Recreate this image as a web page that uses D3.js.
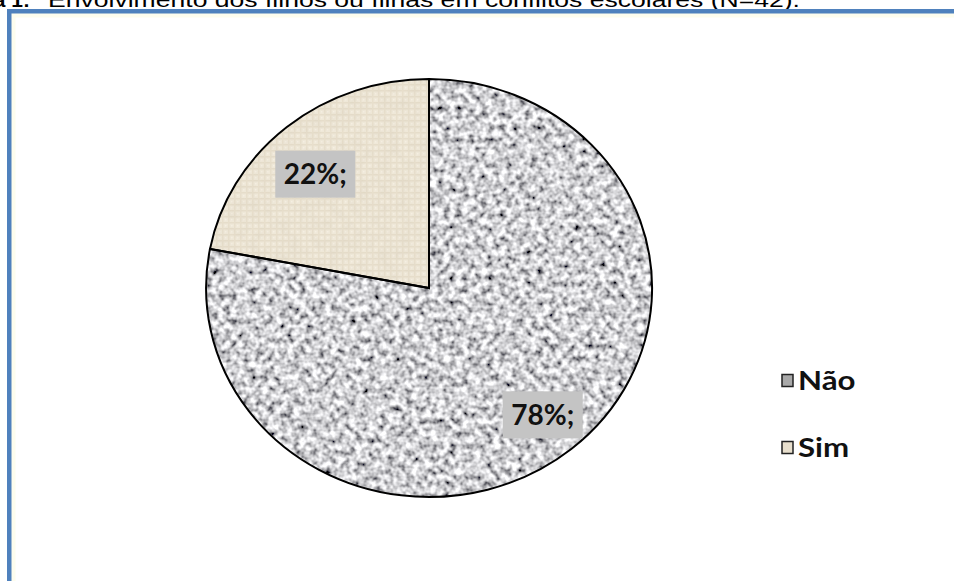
<!DOCTYPE html>
<html>
<head>
<meta charset="utf-8">
<script src="https://cdn.jsdelivr.net/npm/d3@7"></script>
<style>
  html, body { margin: 0; padding: 0; background: #fff; overflow: hidden; }
  svg { display: block; }
</style>
</head>
<body>
<svg id="chart" width="954" height="581"></svg>
<script>
// ---- Data ----
const categories = ["Não", "Sim"];
const values = [78, 22];
const labels = ["78%;", "22%;"];
const titlePrefix = "Figura 1:";
const titleText = "Envolvimento dos filhos ou filhas em conflitos escolares (N=42).";

// ---- Layout ----
const W = 954, H = 581;
const cx = 429, cy = 288, rx = 223, ry = 209;
const labelNudgeY = { "Não": -2, "Sim": 15 };

const svg = d3.select("#chart");
const defs = svg.append("defs");

// granite noise filter (Não)
const fG = defs.append("filter").attr("id", "granite")
  .attr("filterUnits", "userSpaceOnUse")
  .attr("x", 0).attr("y", 0).attr("width", W).attr("height", H);
fG.append("feTurbulence").attr("type", "fractalNoise")
  .attr("baseFrequency", "0.16").attr("numOctaves", 2).attr("seed", 7).attr("result", "n");
fG.append("feColorMatrix").attr("type", "matrix").attr("in", "n").attr("result", "g")
  .attr("values", "1.9 0 0 0 -0.32  1.9 0 0 0 -0.32  1.9 0 0 0 -0.30  0 0 0 0 1");
fG.append("feGaussianBlur").attr("in", "g").attr("stdDeviation", 0.5);

// linen texture (Sim)
const pat = defs.append("pattern").attr("id", "linen")
  .attr("patternUnits", "userSpaceOnUse").attr("width", 6).attr("height", 6);
pat.append("rect").attr("width", 6).attr("height", 6).attr("fill", "#efe8d8");
pat.append("rect").attr("x", 0).attr("y", 0).attr("width", 6).attr("height", 1.5).attr("fill", "#e6ddca");
pat.append("rect").attr("x", 0).attr("y", 0).attr("width", 1.5).attr("height", 6).attr("fill", "#e8dfcc");
pat.append("rect").attr("x", 3).attr("y", 3).attr("width", 1.5).attr("height", 1.5).attr("fill", "#f5efe2");

const fL = defs.append("filter").attr("id", "linenNoise")
  .attr("filterUnits", "userSpaceOnUse")
  .attr("x", 0).attr("y", 0).attr("width", W).attr("height", H);
fL.append("feTurbulence").attr("type", "fractalNoise")
  .attr("baseFrequency", "0.1").attr("numOctaves", 2).attr("seed", 3).attr("result", "n");
fL.append("feColorMatrix").attr("type", "matrix")
  .attr("values", "0 0 0 0 0.6  0 0 0 0 0.55  0 0 0 0 0.45  1.2 0 0 0 -0.45");

// ---- Title (partly cut off at top, as in the source) ----
svg.append("text").attr("x", 30).attr("y", 7).attr("text-anchor", "end")
  .style("font-family", "'Liberation Sans', Arial, sans-serif")
  .style("font-size", "21px").style("font-weight", "bold").attr("fill", "#000")
  .text(titlePrefix);
svg.append("text").attr("x", 48).attr("y", 7)
  .style("font-family", "'Liberation Sans', Arial, sans-serif")
  .style("font-size", "21px").attr("fill", "#000")
  .attr("textLength", 752).attr("lengthAdjust", "spacingAndGlyphs")
  .text(titleText);

// ---- Frame ----
svg.append("rect").attr("x", 9.5).attr("y", 11.5).attr("width", W + 20).attr("height", H + 20)
  .attr("fill", "#fff").attr("stroke", "#4f81bd").attr("stroke-width", 5);
svg.append("rect").attr("x", 13.5).attr("y", 15.5).attr("width", W).attr("height", H)
  .attr("fill", "none").attr("stroke", "#fdfdee").attr("stroke-width", 4);

// ---- Pie ----
const pie = d3.pie().sort(null).value(d => d)(values);
const arc = d3.arc().innerRadius(0).outerRadius(1);
const labelArc = d3.arc().innerRadius(0.8).outerRadius(0.8);
const tf = `translate(${cx},${cy}) scale(${rx},${ry})`;

pie.forEach((p, i) => {
  const id = "clip" + i;
  defs.append("clipPath").attr("id", id)
    .append("path").attr("d", arc(p)).attr("transform", tf);
  const sg = svg.append("g").attr("clip-path", `url(#${id})`);
  const box = sg.append("rect").attr("x", cx - rx - 5).attr("y", cy - ry - 5)
    .attr("width", 2 * rx + 10).attr("height", 2 * ry + 10);
  if (i === 0) {
    box.attr("filter", "url(#granite)");
  } else {
    box.attr("fill", "url(#linen)");
    sg.append("rect").attr("x", cx - rx - 5).attr("y", cy - ry - 5)
      .attr("width", 2 * rx + 10).attr("height", 2 * ry + 10)
      .attr("filter", "url(#linenNoise)").attr("opacity", 0.3);
  }
});
svg.append("g").attr("transform", tf)
  .selectAll("path.outline").data(pie).join("path")
  .attr("class", "outline")
  .attr("d", arc)
  .attr("fill", "none")
  .attr("stroke", "#000")
  .attr("stroke-width", 2)
  .attr("vector-effect", "non-scaling-stroke");

// ---- Labels ----
pie.forEach((p, i) => {
  const c = labelArc.centroid(p);
  const x = cx + c[0] * rx, y = cy + c[1] * ry + labelNudgeY[categories[i]];
  svg.append("rect").attr("x", x - 40).attr("y", y - 23.5).attr("width", 80).attr("height", 47)
    .attr("fill", "#c4c4c4");
  svg.append("text").attr("x", x).attr("y", y + 10).attr("text-anchor", "middle")
    .style("font-family", "Lato, 'Open Sans', sans-serif").style("font-weight", "bold")
    .style("font-size", "28px").attr("fill", "#111").text(labels[i]);
});

// ---- Legend ----
const legendY = d3.scaleBand().domain(categories).range([347, 481]);
const swatch = { "Não": "#a9a9a9", "Sim": "#e8dfcd" };
categories.forEach(cat => {
  const y = legendY(cat) + legendY.bandwidth() / 2;
  svg.append("rect").attr("x", 782).attr("y", y - 6).attr("width", 11).attr("height", 12)
    .attr("fill", swatch[cat]).attr("stroke", "#222").attr("stroke-width", 1.5);
  const t = svg.append("text").attr("x", 798).attr("y", y + 9)
    .style("font-family", "Lato, 'Open Sans', sans-serif").style("font-weight", "bold")
    .style("font-size", "26px").attr("fill", "#111").text(cat);
  const w = t.node().getComputedTextLength();
  t.attr("textLength", w * 1.2).attr("lengthAdjust", "spacingAndGlyphs");
});
</script>
</body>
</html>
